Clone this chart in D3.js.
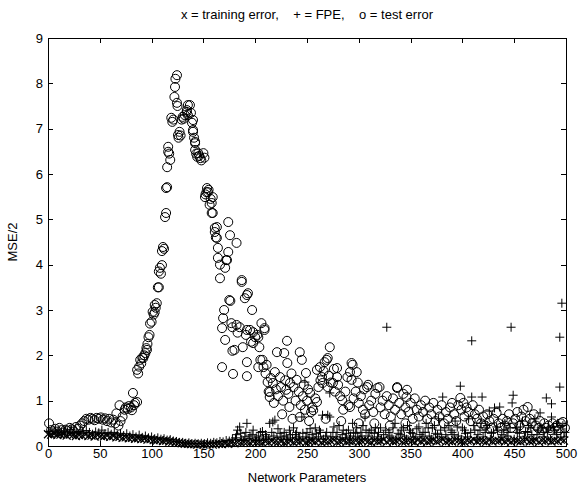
<!DOCTYPE html>
<html lang="en">
<head>
  <meta charset="utf-8">
  <title>Network Parameters vs MSE/2</title>
  <style>
    body { margin: 0; background: #fff; }
    svg { display: block; }
    text { font-family: "Liberation Sans", Arial, sans-serif; fill: #000; }
    .axis text { font-size: 13px; }
    .axis path { display: none; }
    .axis line { stroke: #000; shape-rendering: crispEdges; }
  </style>
</head>
<body>
  <script src="https://cdnjs.cloudflare.com/ajax/libs/d3/7.8.5/d3.min.js"></script>
  <div id="chart"></div>
  <script type="text/javascript">
const width = 579,
  height = 487,
  margin = {top: 38, right: 13, bottom: 41, left: 48};

const xTicks = [0, 50, 100, 150, 200, 250, 300, 350, 400, 450, 500];
const yTicks = [0, 1, 2, 3, 4, 5, 6, 7, 8, 9];

// training error, sampled every 3 parameters (0, 3, 6 ... 498)
const trainX = d3.range(0, 499, 3);
const trainY = [
  0.26,0.25,0.27,0.24,0.25,0.26,0.23,0.25,0.24,0.22,0.24,0.23,0.25,0.22,0.23,0.21,0.24,0.22,0.21,0.23,
  0.2,0.22,0.19,0.2,0.18,0.19,0.17,0.18,0.16,0.17,0.15,0.16,0.14,0.15,0.13,0.12,0.13,0.11,0.12,0.1,
  0.09,0.08,0.07,0.06,0.05,0.05,0.04,0.04,0.03,0.04,0.03,0.03,0.04,0.03,0.04,0.05,0.04,0.06,0.05,0.07,
  0.06,0.08,0.07,0.09,0.08,0.07,0.1,0.08,0.09,0.07,0.1,0.08,0.11,0.09,0.08,0.1,0.07,0.09,0.11,0.08,
  0.1,0.09,0.12,0.08,0.1,0.11,0.09,0.12,0.08,0.1,0.09,0.11,0.13,0.08,0.1,0.12,0.09,0.11,0.1,0.12,
  0.09,0.11,0.13,0.1,0.08,0.12,0.1,0.11,0.14,0.09,0.12,0.1,0.11,0.13,0.09,0.1,0.12,0.11,0.08,0.13,
  0.1,0.12,0.09,0.11,0.13,0.1,0.12,0.14,0.09,0.11,0.1,0.13,0.12,0.1,0.09,0.12,0.11,0.14,0.1,0.12,
  0.11,0.09,0.13,0.1,0.12,0.11,0.14,0.1,0.12,0.09,0.13,0.11,0.1,0.12,0.14,0.1,0.11,0.13,0.09,0.12,
  0.11,0.13,0.1,0.12,0.11,0.14,0.12
];

// FPE, [parameters, value]
const fpe = [
  [1,0.32],[4,0.28],[7,0.35],[10,0.3],[13,0.27],[16,0.33],[19,0.29],[22,0.36],[25,0.3],[28,0.27],
  [31,0.32],[34,0.28],[37,0.34],[40,0.3],[43,0.26],[46,0.31],[49,0.29],[52,0.35],[55,0.27],[58,0.3],
  [61,0.26],[64,0.3],[67,0.24],[70,0.28],[73,0.23],[76,0.27],[79,0.22],[82,0.25],[85,0.2],[88,0.24],
  [91,0.19],[94,0.22],[97,0.18],[100,0.2],[103,0.16],[106,0.18],[109,0.15],[112,0.16],[115,0.13],[118,0.14],
  [121,0.11],[124,0.1],[127,0.08],[130,0.08],[133,0.06],[136,0.07],[139,0.05],[142,0.06],[145,0.05],[148,0.06],
  [151,0.05],[154,0.07],[157,0.06],[160,0.08],[163,0.07],[166,0.1],[169,0.09],[172,0.12],[175,0.11],[178,0.15],
  [181,0.18],[183,0.35],[185,0.42],[187,0.14],[190,0.2],[192,0.5],[194,0.16],[197,0.25],[200,0.12],[203,0.22],
  [205,0.3],[208,0.15],[211,0.2],[214,0.5],[217,0.53],[219,0.57],[221,0.18],[224,0.28],[227,0.15],[230,0.22],
  [233,0.35],[236,0.18],[239,0.25],[242,0.2],[245,0.64],[248,1.41],[250,0.3],[252,0.18],[255,0.25],[258,0.4],
  [261,0.2],[263,0.3],[265,0.68],[268,0.22],[270,0.68],[272,1.17],[272,0.64],[275,0.3],[278,0.2],[281,0.45],
  [284,0.25],[287,0.18],[290,0.35],[292,0.22],[294,0.5],[297,0.28],[299,0.2],[302,0.3],[304,0.45],[306,0.64],
  [309,0.22],[312,0.35],[315,0.28],[318,0.2],[321,0.4],[324,0.25],[327,2.62],[329,0.3],[332,0.18],[335,0.5],
  [338,0.28],[341,0.35],[344,0.22],[347,0.45],[350,0.3],[353,0.2],[356,0.38],[359,0.25],[362,0.3],[365,0.5],
  [368,0.22],[371,0.4],[374,0.28],[377,0.6],[379,0.35],[381,1.08],[384,0.25],[387,0.45],[390,0.3],[393,0.55],
  [396,0.22],[398,1.32],[400,0.4],[403,0.28],[406,0.6],[409,2.32],[409,1.08],[412,0.35],[415,0.25],[418,0.5],
  [419,1.08],[422,0.3],[424,0.45],[426,0.77],[428,0.28],[431,0.84],[434,0.35],[436,0.86],[438,0.25],[441,0.5],
  [444,0.3],[447,2.62],[448,0.95],[449,1.12],[452,0.4],[455,0.28],[458,0.55],[461,0.32],[464,0.45],[467,0.25],
  [470,0.6],[473,0.35],[475,0.73],[478,0.3],[481,1.06],[483,0.4],[486,0.93],[486,0.64],[489,0.35],[492,0.5],
  [494,1.3],[494,2.4],[496,3.15],[497,0.45],[499,0.3],
  [182,0.25],[186,0.28],[189,0.12],[191,0.3],[195,0.22],[198,0.35],[201,0.18],[204,0.12],[207,0.32],[210,0.25],
  [213,0.15],[216,0.3],[218,0.22],[222,0.38],[225,0.2],[228,0.3],[231,0.14],[234,0.25],[237,0.4],[240,0.3],
  [243,0.15],[246,0.28],[249,0.2],[253,0.38],[256,0.15],[259,0.28],[262,0.35],[266,0.15],[269,0.3],[273,0.2],
  [276,0.42],[279,0.3],[282,0.15],[285,0.35],[288,0.28],[291,0.15],[295,0.3],[298,0.4],[301,0.15],[303,0.22],
  [307,0.35],[310,0.3],[313,0.15],[316,0.4],[319,0.3],[322,0.15],[326,0.35],[330,0.22],[333,0.4],[336,0.15],
  [340,0.25],[343,0.4],[346,0.15],[349,0.35],[352,0.28],[355,0.15],[358,0.42],[361,0.2],[364,0.3],[367,0.4],
  [370,0.15],[373,0.45],[376,0.25],[380,0.2],[383,0.4],[386,0.15],[389,0.35],[392,0.25],[395,0.42],[399,0.15],
  [402,0.35],[405,0.2],[408,0.3],[411,0.45],[414,0.15],[417,0.35],[420,0.2],[423,0.4],[427,0.15],[430,0.3],
  [433,0.42],[437,0.15],[440,0.35],[443,0.22],[446,0.4],[450,0.15],[453,0.3],[456,0.42],[460,0.2],[463,0.3],
  [466,0.4],[469,0.15],[472,0.25],[476,0.4],[479,0.2],[482,0.3],[485,0.15],[488,0.42],[491,0.25],[495,0.3],
  [498,0.2]
];

// test error, [parameters, value]
const testErr = [
  [1,0.5],[3,0.35],[5,0.3],[7,0.38],[9,0.32],[11,0.4],[13,0.35],[15,0.3],[17,0.36],[19,0.33],
  [21,0.4],[23,0.37],[25,0.32],[27,0.42],[29,0.38],[31,0.45],[33,0.5],[35,0.55],[37,0.6],[39,0.58],
  [41,0.62],[43,0.6],[45,0.57],[47,0.62],[49,0.6],[51,0.63],[53,0.58],[55,0.61],[57,0.55],[59,0.6],
  [61,0.52],[63,0.58],[65,0.5],[66,0.72],[68,0.45],[69,0.9],[70,0.55],[72,0.65],[74,0.8],[75,0.85],
  [77,0.82],[78,0.88],[80,0.85],[81,0.79],[82,1.17],[83,0.9],[84,0.95],[86,0.97],[86,1.68],[87,1.6],
  [88,1.75],[89,1.9],[90,1.82],[91,1.95],[92,1.94],[93,2.0],[94,2.05],[95.5,2.12],[95,2.16],[96,2.25],
  [97,2.4],[98,2.45],[98.5,2.7],[100,2.74],[101,2.96],[102,2.9],[103,3.11],[103,2.95],[104,3.05],[105,3.15],
  [106,3.5],[107,3.5],[107,3.85],[108,3.93],[109,3.8],[110,3.99],[110,4.3],[111,4.39],[112,4.35],[113,5.05],
  [114,5.14],[114,5.69],[115,5.71],[115,6.15],[116,6.6],[116,6.49],[117,6.45],[118,6.31],[119,7.24],[120,7.15],
  [121,7.2],[122,7.7],[122.6,7.92],[123,8.1],[124.5,8.18],[124.5,7.57],[125,7.5],[125.5,6.86],[126,6.8],[127,6.93],
  [128,6.85],[129,7.2],[130,7.26],[131,7.22],[132,7.3],[134,7.37],[134,7.41],[135,7.3],[135,7.52],[137,7.52],
  [138,7.35],[139,7.13],[140,7.19],[140,6.97],[140,6.93],[141,6.8],[142,6.68],[142,6.71],[142,6.53],[143,6.45],
  [144,6.38],[145,6.46],[146,6.4],[147,6.35],[148,6.3],[150,6.46],[151,6.36],[151.5,5.49],[152,5.55],[153,5.6],
  [153.5,5.69],[154.4,5.6],[155,5.65],[156,5.32],[157,5.45],[158,5.14],[158,5.36],[159,5.49],[159,5.14],[161,4.72],
  [161,4.81],[162,4.6],[163,4.83],[163,4.59],[164,4.37],[164,4.15],[166,3.7],[166,4.0],[168,2.6],[168,1.74],
  [169,2.82],[170,3.0],[171,2.34],[171,3.93],[172,4.1],[172.8,4.1],[174,4.94],[174,4.28],[175,3.22],[175.7,4.65],
  [176,3.2],[177,2.71],[178,2.62],[178,2.1],[178.6,1.59],[180,2.12],[182,4.48],[182,2.67],[183,2.5],[185,2.62],
  [187,3.62],[187,3.66],[188,2.18],[190,3.26],[191,2.45],[192,3.33],[192,2.56],[192,1.85],[192,1.54],[193,3.37],
  [195,2.56],[196,2.3],[197,3.0],[198,2.51],[198,2.27],[200,2.4],[202,2.45],[203,2.4],[203,1.74],[204,2.18],
  [205,1.9],[206,2.71],[207,1.9],[208,1.74],[209,2.56],[209,2.6],[210,1.6],[211,1.79],[212,1.41],[213,1.2],
  [214,1.08],[214,1.19],[215,1.5],[217,1.39],[218,0.95],[219,1.63],[220,1.25],[221,2.07],[222,1.1],[224,1.52],
  [225,1.3],[226,0.7],[227,1.0],[228,2.05],[229,1.45],[230,1.24],[230.7,2.32],[231,1.83],[232,1.15],[233,0.86],
  [233.6,1.39],[235,1.6],[236,0.6],[237,1.3],[239,1.0],[240,1.46],[242,1.2],[243,2.07],[243,0.64],[244,0.9],
  [245,1.9],[246,1.1],[247,1.35],[248,0.8],[249,1.61],[250,1.0],[251,1.25],[252,0.55],[253,1.17],[254,0.75],
  [255,0.85],[256,0.79],[258,1.05],[259.6,1.68],[259.6,0.97],[261,1.3],[262.5,1.74],[263,1.45],[264.5,1.52],[265,1.39],
  [266,1.65],[267,1.85],[268,0.6],[269,1.9],[270,1.94],[270,1.3],[271,1.55],[272,2.18],[273,1.4],[275,1.39],
  [276,1.7],[277,1.2],[279,1.72],[279,1.52],[280,1.35],[282,1.1],[283,0.55],[284,1.01],[285,0.8],[287,1.2],
  [289,1.52],[290,0.9],[291.5,0.86],[291.5,1.63],[293,1.83],[293,1.46],[294,1.79],[295,1.05],[297,1.2],[298,1.63],
  [299,1.4],[300,0.95],[300,0.5],[302,1.1],[304,0.8],[305,1.25],[306,0.7],[308,1.3],[309,1.35],[310,0.9],
  [312,1.0],[314,0.75],[315,0.5],[316,1.15],[318,1.28],[320,1.3],[321,0.85],[323,1.0],[325,0.7],[327,1.1],
  [329,0.9],[330,0.45],[331,0.65],[333,1.05],[335,0.8],[337,1.28],[337,1.3],[339,0.95],[341,0.7],[343,1.15],
  [345,0.85],[345,0.5],[346.5,1.24],[346,1.08],[348,0.75],[350,0.95],[352,0.6],[354,1.05],[356,0.8],[358,0.65],
  [360,0.9],[362,0.75],[364,1.0],[366,0.6],[368,0.85],[370,0.7],[372,0.95],[374,0.55],[376,0.8],[378,0.65],
  [380,0.9],[382,0.5],[384,0.75],[386,0.6],[388,0.85],[390,0.95],[392,0.7],[394,0.55],[396,0.9],[398,1.06],
  [399,0.8],[401,0.95],[402,0.65],[404,0.85],[406,0.75],[408,0.55],[410,0.9],[412,0.7],[414,0.6],[416,0.8],
  [418,0.5],[420,0.65],[422,0.45],[424,0.7],[426,0.55],[428,0.4],[430,0.6],[433,0.73],[435,0.5],[437,0.4],
  [439,0.6],[441,0.45],[443,0.55],[445,0.7],[447,0.4],[449,0.5],[451,0.6],[453,0.75],[455,0.45],[457,0.65],
  [459,0.8],[461,0.55],[463,0.86],[465,0.6],[467,0.5],[469,0.7],[471,0.45],[473,0.4],[475,0.55],[477,0.35],
  [479,0.5],[481,0.4],[483,0.45],[485,0.35],[487,0.5],[489,0.4],[491,0.45],[493,0.35],[495,0.5],[497,0.53],
  [499,0.4]
];

const plotW = width - margin.left - margin.right,
  plotH = height - margin.top - margin.bottom;

const svg = d3.select('#chart')
  .append('svg')
  .attr('width', width)
  .attr('height', height);

const g = svg.append('g')
  .attr('transform', `translate(${margin.left},${margin.top})`);

const x = d3.scaleLinear().domain([0, 500]).range([0, plotW]);
const y = d3.scaleLinear().domain([0, 9]).range([plotH, 0]);

// axes, ticks pointing inward on all four sides
g.append('g').attr('class', 'axis')
  .attr('transform', `translate(0,${plotH})`)
  .call(d3.axisBottom(x).tickValues(xTicks).tickSizeInner(-5).tickSizeOuter(0).tickPadding(3));
g.append('g').attr('class', 'axis')
  .call(d3.axisTop(x).tickValues(xTicks).tickSizeInner(-5).tickSizeOuter(0).tickFormat(''));
g.append('g').attr('class', 'axis')
  .call(d3.axisLeft(y).tickValues(yTicks).tickSizeInner(-5).tickSizeOuter(0).tickPadding(5));
g.append('g').attr('class', 'axis')
  .attr('transform', `translate(${plotW},0)`)
  .call(d3.axisRight(y).tickValues(yTicks).tickSizeInner(-5).tickSizeOuter(0).tickFormat(''));

g.append('rect')
  .attr('width', plotW)
  .attr('height', plotH)
  .attr('fill', 'none')
  .attr('stroke', '#000')
  .attr('shape-rendering', 'crispEdges');

// test error circles
g.selectAll('circle.test')
  .data(testErr)
  .enter()
  .append('circle')
  .attr('class', 'test')
  .attr('cx', d => x(d[0]))
  .attr('cy', d => y(d[1]))
  .attr('r', 4.5)
  .attr('fill', 'none')
  .attr('stroke', '#000')
  .attr('stroke-width', 1);

// FPE pluses
const s = 4.5;
g.selectAll('path.fpe')
  .data(fpe)
  .enter()
  .append('path')
  .attr('class', 'fpe')
  .attr('d', d => {
    const px = x(d[0]), py = y(d[1]);
    return `M${px - s},${py}H${px + s}M${px},${py - s}V${py + s}`;
  })
  .attr('stroke', '#000')
  .attr('stroke-width', 1);

// training error crosses
const t = 4;
g.selectAll('path.train')
  .data(trainY)
  .enter()
  .append('path')
  .attr('class', 'train')
  .attr('d', (d, i) => {
    const px = x(trainX[i]), py = y(d);
    return `M${px - t},${py - t}L${px + t},${py + t}M${px - t},${py + t}L${px + t},${py - t}`;
  })
  .attr('stroke', '#000')
  .attr('stroke-width', 1.2);

svg.append('text')
  .attr('x', margin.left + plotW / 2)
  .attr('y', 19)
  .attr('text-anchor', 'middle')
  .attr('font-size', 13)
  .style('white-space', 'pre')
  .text('x = training error,    + = FPE,    o = test error');

svg.append('text')
  .attr('x', margin.left + plotW / 2)
  .attr('y', 482)
  .attr('text-anchor', 'middle')
  .attr('font-size', 13)
  .text('Network Parameters');

svg.append('text')
  .attr('transform', `translate(17,${margin.top + plotH / 2}) rotate(-90)`)
  .attr('text-anchor', 'middle')
  .attr('font-size', 13)
  .text('MSE/2');
  </script>
</body>
</html>
